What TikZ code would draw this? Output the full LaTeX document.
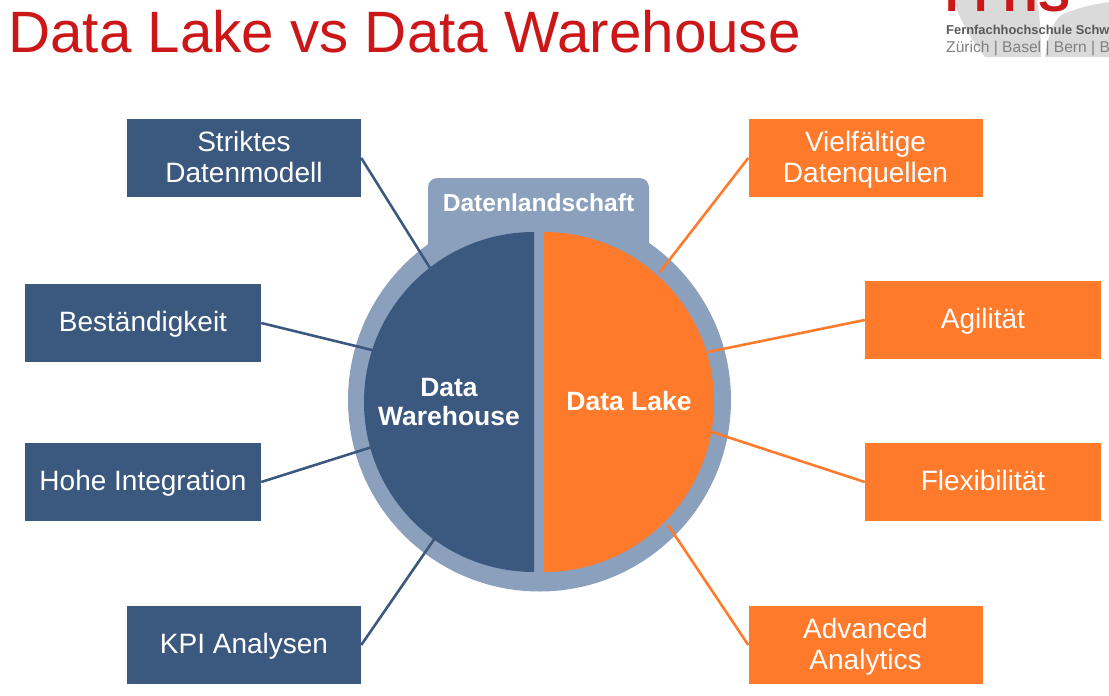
\documentclass[tikz,border=0pt]{standalone}
\usepackage{fontspec}
\setmainfont{Liberation Sans}
\definecolor{titlered}{HTML}{CC1719}
\definecolor{darkblue}{HTML}{3B587F}
\definecolor{ringblue}{HTML}{8BA0BC}
\definecolor{lakeorange}{HTML}{FF7A2B}
\definecolor{logogray}{HTML}{DADADA}
\newcommand{\boxstrut}{\vrule height 20.5pt depth 5.5pt width 0pt}
\tikzset{
  dwbox/.style={rectangle,fill=darkblue,text=white,minimum width=7.02cm,minimum height=2.34cm,inner sep=0pt,align=center,font=\fontsize{23.9}{26.5}\selectfont},
  dlbox/.style={dwbox,fill=lakeorange},
  widebox/.style={minimum width=7.08cm},
  dwlink/.style={draw,color=darkblue,line width=2.2pt},
  dllink/.style={draw,color=lakeorange,line width=2.2pt},
  hublabel/.style={text=white,align=center,font=\fontsize{22.6}{24}\selectfont\bfseries}
}
\begin{document}
\begin{tikzpicture}[x=0.03cm,y=-0.03cm]
\useasboundingbox (0,0) rectangle (1109,696);
\clip (0,0) rectangle (1109,696);
% logo
\fill[logogray] (953,0) .. controls (962,25) and (975,45) .. (985,57) -- (1041,57) .. controls (1041,35) and (1040,15) .. (1037,0) -- cycle;
\fill[logogray] (1045,57) .. controls (1048,35) and (1053,20) .. (1063,14) .. controls (1080,7) and (1095,4) .. (1109,2) -- (1109,57) -- cycle;
\node[anchor=base west,inner sep=0pt,text=titlered,font=\fontsize{41}{41}\selectfont\bfseries] (logo) at (945,11) {FFHS};
\node[anchor=base west,inner sep=0pt,text=black!65,font=\fontsize{11}{12}\selectfont\bfseries] (school) at (946,34) {Fernfachhochschule Schw};
\node[anchor=base west,inner sep=0pt,text=black!50,font=\fontsize{13.3}{14}\selectfont] (sites) at (946,52) {Zürich | Basel | Bern | B};
% title
\node[anchor=base west,inner sep=0pt,text=titlered,font=\fontsize{49.8}{50}\selectfont] (title) at (8,52) {Data Lake vs Data Warehouse};
% hub
\fill[ringblue,rounded corners=8pt] (428,260) -- (428,178) -- (649,178) -- (649,260) -- cycle;
\fill[ringblue] (539.5,400) circle (191.5);
\fill[darkblue] (534,232) arc (270:90:170) -- cycle;
\fill[lakeorange] (544,232) arc (-90:90:170) -- cycle;
\node[hublabel,font=\fontsize{21}{24}\selectfont\bfseries] (landscape) at (538.5,203) {Datenlandschaft};
\node[hublabel] (dw) at (449,402) {Data\\Warehouse};
\node[hublabel] (dl) at (629,401) {Data Lake};
% left boxes
\node[dwbox] (1) at (244,158) {\boxstrut Striktes\\Datenmodell\boxstrut};
\node[dwbox,widebox] (2) at (143,323) {\boxstrut Beständigkeit};
\node[dwbox,widebox] (3) at (143,482) {\boxstrut Hohe Integration};
\node[dwbox] (4) at (244,645) {\boxstrut KPI Analysen};
% right boxes
\node[dlbox] (5) at (865.5,158) {\boxstrut Vielfältige\\Datenquellen\boxstrut};
\node[dlbox,widebox] (6) at (983,320) {\boxstrut Agilität};
\node[dlbox,widebox] (7) at (983,482) {\boxstrut Flexibilität};
\node[dlbox] (8) at (865.5,645) {\boxstrut Advanced\\Analytics\boxstrut};
% ends on the circle
\coordinate (e1) at (430,268);
\coordinate (e2) at (372,350);
\coordinate (e3) at (372,447);
\coordinate (e4) at (435,538);
\coordinate (e5) at (660,272);
\coordinate (e6) at (708,352);
\coordinate (e7) at (712,432);
\coordinate (e8) at (668,525);
\path[dwlink](1.east) edge (e1);
\path[dwlink](2.east) edge (e2);
\path[dwlink](3.east) edge (e3);
\path[dwlink](4.east) edge (e4);
\path[dllink](5.west) edge (e5);
\path[dllink](6.west) edge (e6);
\path[dllink](7.west) edge (e7);
\path[dllink](8.west) edge (e8);
\end{tikzpicture}
\end{document}
